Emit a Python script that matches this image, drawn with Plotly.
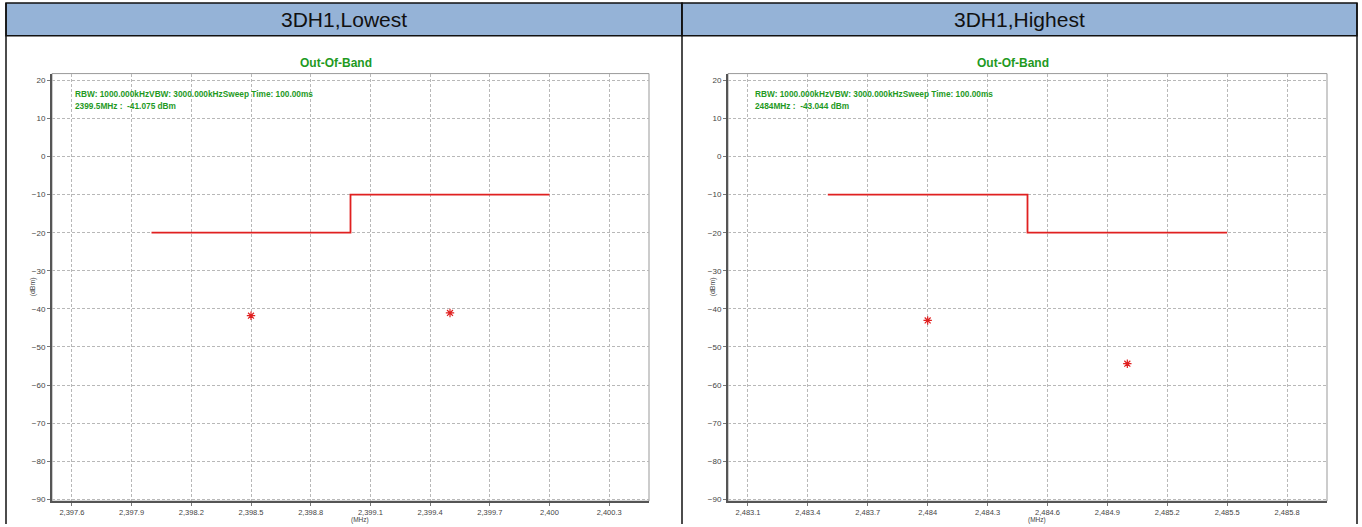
import plotly.graph_objects as go

W, H = 1362, 527

# ---- data ----
panel_titles = ["3DH1,Lowest", "3DH1,Highest"]
info_lines = ["RBW: 1000.000kHzVBW: 3000.000kHzSweep Time: 100.00ms"]
marker_notes = ["2399.5MHz :  -41.075 dBm", "2484MHz :  -43.044 dBm"]

# limit lines (step)
low_limit_x = [2398.0, 2399.0, 2400.0]
low_limit_y = [-20, -10, -10]
high_limit_x = [2483.5, 2484.5, 2485.5]
high_limit_y = [-10, -20, -20]

# measured points
low_pts_x = [2398.5, 2399.5]
low_pts_y = [-41.8, -41.075]
high_pts_x = [2484.0, 2485.0]
high_pts_y = [-43.044, -54.4]

# tick labels
low_ticks = [2397.6, 2397.9, 2398.2, 2398.5, 2398.8, 2399.1, 2399.4, 2399.7, 2400.0, 2400.3]
low_ticktext = ["2,397.6", "2,397.9", "2,398.2", "2,398.5", "2,398.8", "2,399.1",
                "2,399.4", "2,399.7", "2,400", "2,400.3"]
high_ticks = [2483.1, 2483.4, 2483.7, 2484.0, 2484.3, 2484.6, 2484.9, 2485.2, 2485.5, 2485.8]
high_ticktext = ["2,483.1", "2,483.4", "2,483.7", "2,484", "2,484.3", "2,484.6",
                 "2,484.9", "2,485.2", "2,485.5", "2,485.8"]
y_ticks = [20, 10, 0, -10, -20, -30, -40, -50, -60, -70, -80, -90]


def px(x):
    return x / W


def py(y):
    return 1 - y / H


GREEN = "#1f9a1f"
RED = "#e02020"
FONT = "Arial, Liberation Sans, sans-serif"

fig = go.Figure()

# =============================
# traces
# =============================
fig.add_trace(go.Scatter(x=low_limit_x, y=low_limit_y, mode="lines", line_shape="hv",
                         line=dict(color=RED, width=1.8), xaxis="x", yaxis="y"))
fig.add_trace(go.Scatter(x=low_pts_x, y=low_pts_y, mode="markers", xaxis="x", yaxis="y",
                         marker=dict(symbol="asterisk-open", size=7, color=RED,
                                     line=dict(color=RED, width=1.2))))
fig.add_trace(go.Scatter(x=high_limit_x, y=high_limit_y, mode="lines", line_shape="hv",
                         line=dict(color=RED, width=1.8), xaxis="x2", yaxis="y2"))
fig.add_trace(go.Scatter(x=high_pts_x, y=high_pts_y, mode="markers", xaxis="x2", yaxis="y2",
                         marker=dict(symbol="asterisk-open", size=7, color=RED,
                                     line=dict(color=RED, width=1.2))))

# =============================
# axes
# =============================
plot_top, plot_bot = 74, 504
common_x = dict(showgrid=True, gridcolor="#b8b8b8", griddash="3px,2px", gridwidth=1,
                showline=True, linecolor="#555555", linewidth=2, zeroline=False,
                ticks="outside", ticklen=3, tickcolor="#777777",
                tickfont=dict(family=FONT, size=7.5, color="#444444"))
common_y = dict(common_x, tickvals=y_ticks, range=[-90.5, 21.8],
                tickfont=dict(family=FONT, size=8, color="#444444"))

fig.update_layout(
    xaxis=dict(common_x, domain=[px(52), px(649)], range=[2397.5, 2400.5],
               tickvals=low_ticks, ticktext=low_ticktext, anchor="y"),
    yaxis=dict(common_y, domain=[py(plot_bot), py(plot_top)], anchor="x"),
    xaxis2=dict(common_x, domain=[px(728), px(1327)], range=[2483.0, 2486.0],
                tickvals=high_ticks, ticktext=high_ticktext, anchor="y2"),
    yaxis2=dict(common_y, domain=[py(plot_bot), py(plot_top)], anchor="x2"),
)

# =============================
# table frame / header
# =============================
shapes = []
for x0, x1 in [(6, 682), (682, 1357)]:
    shapes.append(dict(type="rect", xref="paper", yref="paper", x0=px(x0), x1=px(x1),
                       y0=py(36), y1=py(3), fillcolor="#95b3d7",
                       line=dict(color="#111111", width=1.5), layer="below"))
for xv in [6, 682, 1357]:
    shapes.append(dict(type="line", xref="paper", yref="paper", x0=px(xv), x1=px(xv),
                       y0=py(3), y1=0, line=dict(color="#111111", width=1.5)))
# thin top/right frame of each plot
for xr, yr in [("x", "y"), ("x2", "y2")]:
    shapes.append(dict(type="rect", xref=xr + " domain", yref=yr + " domain",
                       x0=0, x1=1, y0=0, y1=1, line=dict(color="#999999", width=1),
                       layer="below"))


def note(text, x, y, size, color, xanchor="center", angle=0):
    return dict(text=text, x=px(x), y=py(y), xref="paper", yref="paper",
                xanchor=xanchor, yanchor="middle", textangle=angle, showarrow=False,
                font=dict(family=FONT, size=size, color=color))


annotations = []
for title, cx in zip(panel_titles, [344, 1019]):
    annotations.append(note(title, cx, 20, 21, "#111111"))

for cx, lx, mtxt, mhz_x in [(336, 73, marker_notes[0], 360), (1013, 753, marker_notes[1], 1037)]:
    annotations.append(note("<b>Out-Of-Band</b>", cx, 63, 12, GREEN))
    annotations.append(note("<b>" + info_lines[0] + "</b>", lx, 95, 8.3, GREEN, "left"))
    annotations.append(note("<b>" + mtxt + "</b>", lx, 107, 8.3, GREEN, "left"))
    annotations.append(note("(MHz)", mhz_x, 523, 6.5, "#444444"))

for ax in [33, 713]:
    annotations.append(note("(dBm)", ax, 289, 7, "#444444", angle=-90))

fig.update_layout(
    width=W, height=H, autosize=False,
    margin=dict(l=0, r=0, t=0, b=0),
    paper_bgcolor="white", plot_bgcolor="white",
    showlegend=False,
    shapes=shapes, annotations=annotations,
)

fig.write_html("out.html", config={"displayModeBar": False},
               post_script="document.body.style.margin='0';")
